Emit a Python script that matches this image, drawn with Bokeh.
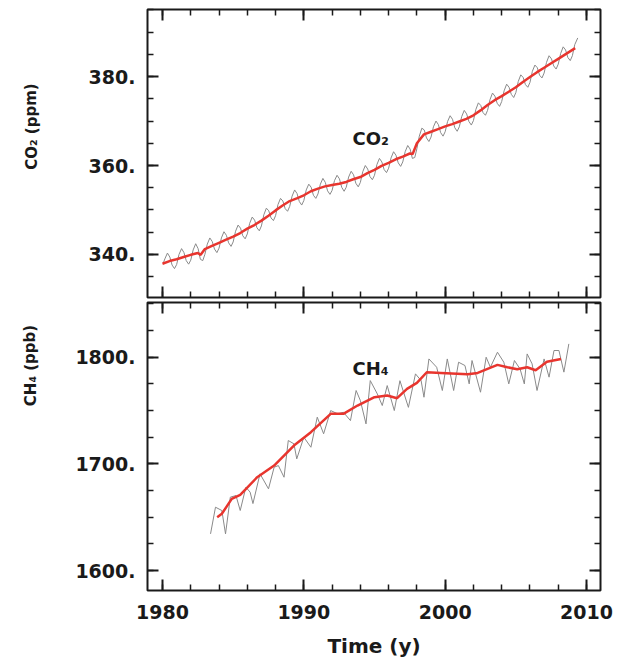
from bokeh.plotting import figure
from bokeh.models import Range1d, LinearAxis, FixedTicker, Label
from bokeh.layouts import column, row
from bokeh.core.properties import value
from bokeh.embed import file_html
from bokeh.resources import INLINE

# ---------------- data ----------------
co2_time = [1980.05, 1980.17, 1980.35, 1980.52, 1980.68, 1980.85,
            1981.0, 1981.17, 1981.35, 1981.52, 1981.68, 1981.85,
            1982.0, 1982.17, 1982.35, 1982.52, 1982.68, 1982.85,
            1983.0, 1983.17, 1983.35, 1983.52, 1983.68, 1983.85,
            1984.0, 1984.17, 1984.35, 1984.52, 1984.68, 1984.85,
            1985.0, 1985.17, 1985.35, 1985.52, 1985.68, 1985.85,
            1986.0, 1986.17, 1986.35, 1986.52, 1986.68, 1986.85,
            1987.0, 1987.17, 1987.35, 1987.52, 1987.68, 1987.85,
            1988.0, 1988.17, 1988.35, 1988.52, 1988.68, 1988.85,
            1989.0, 1989.17, 1989.35, 1989.52, 1989.68, 1989.85,
            1990.0, 1990.17, 1990.35, 1990.52, 1990.68, 1990.85,
            1991.0, 1991.17, 1991.35, 1991.52, 1991.68, 1991.85,
            1992.0, 1992.17, 1992.35, 1992.52, 1992.68, 1992.85,
            1993.0, 1993.17, 1993.35, 1993.52, 1993.68, 1993.85,
            1994.0, 1994.17, 1994.35, 1994.52, 1994.68, 1994.85,
            1995.0, 1995.17, 1995.35, 1995.52, 1995.68, 1995.85,
            1996.0, 1996.17, 1996.35, 1996.52, 1996.68, 1996.85,
            1997.0, 1997.17, 1997.35, 1997.52, 1997.68, 1997.85,
            1998.0, 1998.17, 1998.35, 1998.52, 1998.68, 1998.85,
            1999.0, 1999.17, 1999.35, 1999.52, 1999.68, 1999.85,
            2000.0, 2000.17, 2000.35, 2000.52, 2000.68, 2000.85,
            2001.0, 2001.17, 2001.35, 2001.52, 2001.68, 2001.85,
            2002.0, 2002.17, 2002.35, 2002.52, 2002.68, 2002.85,
            2003.0, 2003.17, 2003.35, 2003.52, 2003.68, 2003.85,
            2004.0, 2004.17, 2004.35, 2004.52, 2004.68, 2004.85,
            2005.0, 2005.17, 2005.35, 2005.52, 2005.68, 2005.85,
            2006.0, 2006.17, 2006.35, 2006.52, 2006.68, 2006.85,
            2007.0, 2007.17, 2007.35, 2007.52, 2007.68, 2007.85,
            2008.0, 2008.17, 2008.35, 2008.52, 2008.68, 2008.85,
            2009.0, 2009.17, 2009.38]
co2_ppm = [338.0, 339.0, 340.3, 339.4, 337.6, 336.8,
           337.7, 340.0, 341.3, 340.4, 338.6, 337.8,
           338.7, 341.0, 342.4, 341.3, 338.9, 338.6,
           340.0, 342.3, 343.7, 342.9, 341.2, 340.4,
           341.4, 343.7, 345.1, 344.3, 342.6, 341.8,
           342.8, 345.2, 346.6, 345.9, 344.2, 343.5,
           344.6, 347.0, 348.4, 347.7, 346.0, 345.3,
           346.4, 348.9, 350.4, 349.8, 348.2, 347.6,
           348.7, 351.2, 352.6, 352.0, 350.3, 349.7,
           350.8, 353.1, 354.5, 353.7, 351.9, 351.1,
           352.1, 354.5, 355.8, 355.1, 353.3, 352.6,
           353.6, 355.8, 357.1, 356.2, 354.3, 353.5,
           354.4, 356.6, 357.8, 357.0, 355.1, 354.2,
           355.1, 357.4, 358.7, 357.9, 356.0, 355.2,
           356.2, 358.6, 360.0, 359.2, 357.5, 356.8,
           357.8, 360.2, 361.6, 360.8, 359.1, 358.4,
           359.4, 361.7, 363.1, 362.3, 360.6, 359.8,
           360.8, 363.1, 364.5, 363.7, 361.6, 361.8,
           363.8, 366.6, 368.4, 368.0, 366.2, 365.4,
           366.4, 368.7, 370.0, 369.2, 367.4, 366.6,
           367.6, 369.9, 371.2, 370.4, 368.5, 367.7,
           368.7, 371.0, 372.4, 371.6, 369.9, 369.1,
           370.1, 372.6, 374.1, 373.5, 371.9, 371.3,
           372.4, 374.8, 376.3, 375.6, 374.0, 373.3,
           374.4, 376.8, 378.3, 377.6, 376.0, 375.3,
           376.4, 378.9, 380.4, 379.8, 378.2, 377.6,
           378.7, 381.2, 382.6, 382.0, 380.3, 379.7,
           380.8, 383.2, 384.7, 384.0, 382.4, 381.7,
           382.8, 385.2, 386.7, 386.0, 384.3, 383.6,
           384.7, 387.2, 388.7]

co2_trend_time = [1980.0, 1980.5, 1981.0, 1981.5, 1982.0, 1982.5, 1982.7, 1983.0,
                  1983.5, 1984.0, 1984.5, 1985.0, 1985.5, 1986.0, 1986.5, 1987.0,
                  1987.5, 1988.0, 1988.5, 1989.0, 1989.5, 1990.0, 1990.5, 1991.0,
                  1991.5, 1992.0, 1992.5, 1993.0, 1993.5, 1994.0, 1994.5, 1995.0,
                  1995.5, 1996.0, 1996.5, 1997.0, 1997.5, 1997.7, 1998.0, 1998.5,
                  1999.0, 1999.5, 2000.0, 2000.5, 2001.0, 2001.5, 2002.0, 2002.5,
                  2003.0, 2003.5, 2004.0, 2004.5, 2005.0, 2005.5, 2006.0, 2006.5,
                  2007.0, 2007.5, 2008.0, 2008.5, 2009.2]
co2_trend = [337.9, 338.5, 338.9, 339.4, 339.9, 340.3, 339.9, 341.2,
             341.9, 342.6, 343.3, 344.0, 344.8, 345.8, 346.6, 347.6,
             348.7, 349.9, 351.0, 352.0, 352.6, 353.3, 354.2, 354.8,
             355.3, 355.6, 355.9, 356.3, 356.9, 357.4, 358.3, 359.0,
             359.9, 360.6, 361.4, 362.0, 362.7, 362.6, 365.0, 367.0,
             367.6, 368.2, 368.8, 369.3, 369.9, 370.5, 371.3, 372.4,
             373.6, 374.7, 375.6, 376.6, 377.6, 378.8, 379.9, 381.0,
             382.0, 383.0, 384.0, 385.0, 386.4]

ch4_time = [1983.4, 1983.75, 1984.2, 1984.46, 1984.8, 1985.2, 1985.5, 1985.9,
            1986.2, 1986.4, 1986.9, 1987.5, 1987.9, 1988.2, 1988.6, 1988.9,
            1989.3, 1989.5, 1990.0, 1990.5, 1990.95, 1991.4, 1991.9, 1992.4,
            1992.8, 1993.3, 1993.7, 1994.0, 1994.4, 1994.7, 1995.2, 1995.55,
            1995.9, 1996.4, 1996.8, 1997.4, 1997.9, 1998.3, 1998.5, 1998.85,
            1999.4, 1999.8, 2000.15, 2000.6, 2000.95, 2001.4, 2001.7, 2001.9,
            2002.5, 2002.9, 2003.2, 2003.7, 2004.15, 2004.5, 2004.9, 2005.3,
            2005.6, 2005.8, 2006.15, 2006.5, 2007.0, 2007.35, 2007.7, 2008.05,
            2008.4, 2008.75]
ch4_ppb = [1634.4, 1659.4, 1656.3, 1634.4, 1668.8, 1670.3, 1656.3, 1678.1,
           1673.5, 1662.8, 1690.7, 1676.6, 1696.9, 1698.4, 1687.5, 1721.9,
           1718.8, 1704.7, 1725.0, 1715.6, 1743.8, 1728.2, 1750.0, 1746.9,
           1748.4, 1740.6, 1768.8, 1759.4, 1737.5, 1778.1, 1765.6, 1754.7,
           1773.4, 1750.0, 1778.0, 1753.0, 1784.4, 1778.0, 1762.5, 1798.4,
           1790.6, 1768.8, 1798.4, 1768.8, 1795.3, 1792.2, 1775.0, 1796.9,
           1767.2, 1800.0, 1790.6, 1804.7, 1795.3, 1775.0, 1796.9, 1789.0,
           1775.0, 1803.1, 1793.8, 1768.8, 1798.4, 1781.3, 1806.3, 1806.3,
           1786.0, 1812.5]

ch4_trend_time = [1983.87, 1984.2, 1984.9, 1985.5, 1986.7, 1987.9, 1989.3, 1990.5,
                  1991.9, 1992.8, 1993.8, 1995.0, 1995.9, 1996.6, 1997.3, 1998.0,
                  1998.7, 1999.7, 2001.6, 2002.3, 2003.7, 2004.4, 2005.1, 2005.8,
                  2006.4, 2007.2, 2008.2]
ch4_trend = [1650.0, 1653.2, 1667.2, 1671.0, 1687.5, 1698.4, 1717.2, 1729.7,
             1746.9, 1746.9, 1754.7, 1762.5, 1764.1, 1761.6, 1770.3, 1776.0,
             1785.9, 1785.3, 1784.0, 1785.3, 1792.8, 1790.6, 1788.8, 1790.6,
             1787.8, 1795.8, 1798.4]

x_major = [1980, 1990, 2000, 2010]
x_minor = [1980, 1982, 1984, 1986, 1988, 1990, 1992, 1994, 1996, 1998,
           2000, 2002, 2004, 2006, 2008, 2010]
x_labels = {1980: "1980", 1990: "1990", 2000: "2000", 2010: "2010"}

co2_major = [340, 360, 380]
co2_minor = [330, 335, 340, 345, 350, 355, 360, 365, 370, 375, 380, 385, 390, 395]
co2_labels = {340: "340.", 360: "360.", 380: "380."}

ch4_major = [1600, 1700, 1800]
ch4_minor = [1600, 1625, 1650, 1675, 1700, 1725, 1750, 1775, 1800, 1825, 1850]
ch4_labels = {1600: "1600.", 1700: "1700.", 1800: "1800."}

y_titles = ["CO₂ (ppm)", "CH₄ (ppb)"]

# ---------------- styling ----------------
FONT = "DejaVu Sans"
TXT = "#1a1a1a"
GRAY = "#8a8a8a"
RED = "#e8352e"
TOTAL_H = 654
STRIP_W = 44

x_range = Range1d(1978.94, 2010.99)


def make_axis(ticks, minor, labels=None):
    ax = LinearAxis(ticker=FixedTicker(ticks=ticks, minor_ticks=minor))
    ax.axis_line_color = None
    ax.major_tick_in = 11
    ax.major_tick_out = 0
    ax.minor_tick_in = 6
    ax.minor_tick_out = 0
    ax.major_tick_line_width = 2
    ax.minor_tick_line_width = 1.5
    ax.major_tick_line_color = TXT
    ax.minor_tick_line_color = TXT
    if labels is None:
        ax.major_label_overrides = {t: "" for t in ticks}
        ax.major_label_text_font_size = "0px"
        ax.major_label_standoff = 0
    else:
        ax.major_label_overrides = labels
        ax.major_label_text_font = FONT
        ax.major_label_text_font_style = "bold"
        ax.major_label_text_font_size = "19px"
        ax.major_label_text_color = TXT
        ax.major_label_standoff = 12
    return ax


def make_fig(y_range, border_top, border_bottom):
    p = figure(frame_width=453, frame_height=288, x_range=x_range, y_range=y_range,
               x_axis_location=None, y_axis_location=None,
               output_backend="svg", toolbar_location=None,
               min_border=0, min_border_left=147 - STRIP_W, min_border_right=18,
               min_border_top=border_top, min_border_bottom=border_bottom)
    p.outline_line_color = TXT
    p.outline_line_width = 2
    p.background_fill_color = "white"
    p.border_fill_color = "white"
    p.xgrid.visible = False
    p.ygrid.visible = False
    return p


# narrow strip on the left holding the two rotated y-axis titles
strip = figure(width=STRIP_W, height=TOTAL_H, x_range=Range1d(0, STRIP_W),
               y_range=Range1d(0, TOTAL_H), x_axis_location=None, y_axis_location=None,
               output_backend="svg", toolbar_location=None, min_border=0)
strip.outline_line_color = None
strip.xgrid.visible = False
strip.ygrid.visible = False
strip.text(x=[31, 30], y=[TOTAL_H - 126, TOTAL_H - 365], text=y_titles,
           angle=1.5708, text_align="center", text_baseline="middle",
           text_font=value(FONT), text_font_style="bold", text_font_size="15px",
           text_color=TXT)

# top panel: CO2
p1 = make_fig(Range1d(330.3, 395.1), 9, 2)
p1.add_layout(make_axis(co2_major, co2_minor, co2_labels), "left")
p1.add_layout(make_axis(co2_major, co2_minor), "right")
p1.add_layout(make_axis(x_major, x_minor), "above")
p1.add_layout(make_axis(x_major, x_minor), "below")
p1.line(co2_time, co2_ppm, line_color=GRAY, line_width=1)
p1.line(co2_trend_time, co2_trend, line_color=RED, line_width=2.5)
p1.add_layout(Label(x=1993.45, y=366.0, text="CO₂", text_font=FONT,
                    text_font_style="bold", text_font_size="18px", text_color=TXT,
                    text_baseline="alphabetic", text_align="left"))

# bottom panel: CH4
p2 = make_fig(Range1d(1581.3, 1851.3), 3, 0)
p2.add_layout(make_axis(ch4_major, ch4_minor, ch4_labels), "left")
p2.add_layout(make_axis(ch4_major, ch4_minor), "right")
p2.add_layout(make_axis(x_major, x_minor), "above")
xb = make_axis(x_major, x_minor, x_labels)
xb.major_label_standoff = 14
xb.axis_label = "Time (y)"
xb.axis_label_text_font = FONT
xb.axis_label_text_font_style = "bold"
xb.axis_label_text_font_size = "20px"
xb.axis_label_text_color = TXT
xb.axis_label_standoff = 12
p2.add_layout(xb, "below")
p2.line(ch4_time, ch4_ppb, line_color=GRAY, line_width=1)
p2.line(ch4_trend_time, ch4_trend, line_color=RED, line_width=2.5)
p2.add_layout(Label(x=1993.45, y=1789.4, text="CH₄", text_font=FONT,
                    text_font_style="bold", text_font_size="18px", text_color=TXT,
                    text_baseline="alphabetic", text_align="left"))

layout = row(strip, column(p1, p2, spacing=0), spacing=0)

open("out.html", "w").write(file_html(layout, INLINE))
